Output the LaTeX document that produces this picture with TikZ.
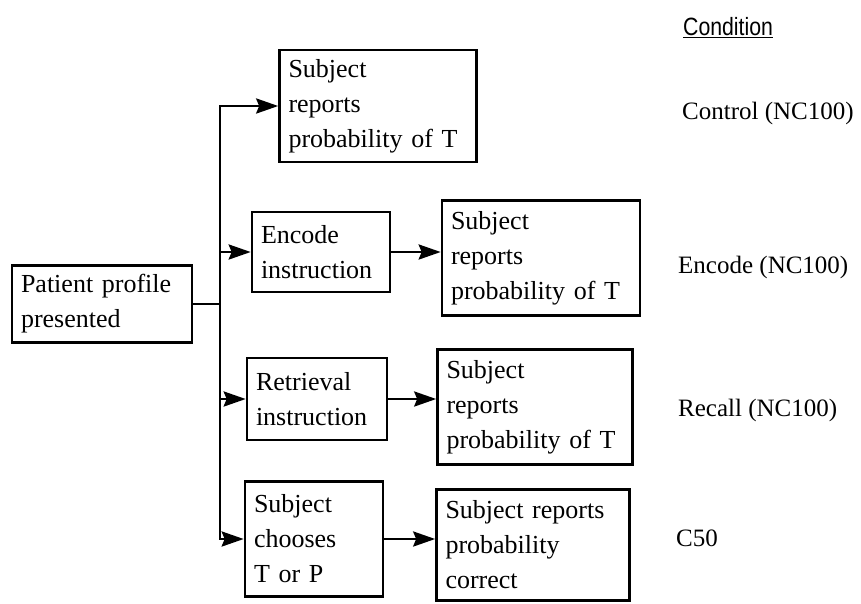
\documentclass[tikz,border=0pt]{standalone}
\usepackage{fontspec}
\setmainfont{Liberation Serif}
\newfontfamily\condfont[FakeStretch=0.85]{Liberation Sans}
\usetikzlibrary{arrows.meta}
\begin{document}
\begin{tikzpicture}[x=1pt,y=-1pt,>={Stealth[length=22pt,width=15pt,inset=3pt]},
	box/.style={draw,line width=2.6pt,align=left,inner xsep=9pt,inner ysep=3pt,font=\fontsize{26}{35}\selectfont},
	cond/.style={anchor=west,inner sep=0pt,font=\fontsize{25}{30}\selectfont},
	link/.style={line width=2.8pt,->}]
	\useasboundingbox (0,0) rectangle (861,603);
	% boxes
	\node[box,text width=162pt,minimum height=77pt] (pat) at (102,304) {Patient profile\\presented};
	\node[box,text width=179pt,minimum height=112pt] (ctrl) at (378,106) {Subject\\reports\\probability of T};
	\node[box,text width=120pt,minimum height=80pt] (enc) at (321,252) {Encode\\instruction};
	\node[box,text width=180pt,minimum height=115pt] (encrep) at (541,258) {Subject\\reports\\probability of T};
	\node[box,text width=122pt,minimum height=82pt] (ret) at (317,399) {Retrieval\\instruction};
	\node[box,text width=177pt,minimum height=115pt] (recrep) at (535,407) {Subject\\reports\\probability of T};
	\node[box,text width=120pt,minimum height=115pt] (cho) at (314,539) {Subject\\chooses\\T or P};
	\node[box,text width=175pt,minimum height=111pt] (correp) at (533,545) {Subject reports\\probability\\correct};
	% conditions
	\node[cond] (head) at (683,28) {\condfont\underline{Condition}};
	\node[cond] (c1) at (682,113) {Control (NC100)};
	\node[cond] (c2) at (678,267) {Encode (NC100)};
	\node[cond] (c3) at (678,410) {Recall (NC100)};
	\node[cond] (c4) at (676,538) {C50};
	% connectors
	\coordinate (split) at (220,304);
	\draw[line width=2.8pt] (pat.east) -- (split);
	\draw[link] (split) |- (ctrl.west);
	\draw[link] (split) |- (enc.west);
	\draw[link] (split) |- (ret.west);
	\draw[link] (split) |- (cho.west);
	\draw[link] (enc) -- (enc -| encrep.west);
	\draw[link] (ret) -- (ret -| recrep.west);
	\draw[link] (cho) -- (cho -| correp.west);
\end{tikzpicture}
\end{document}
